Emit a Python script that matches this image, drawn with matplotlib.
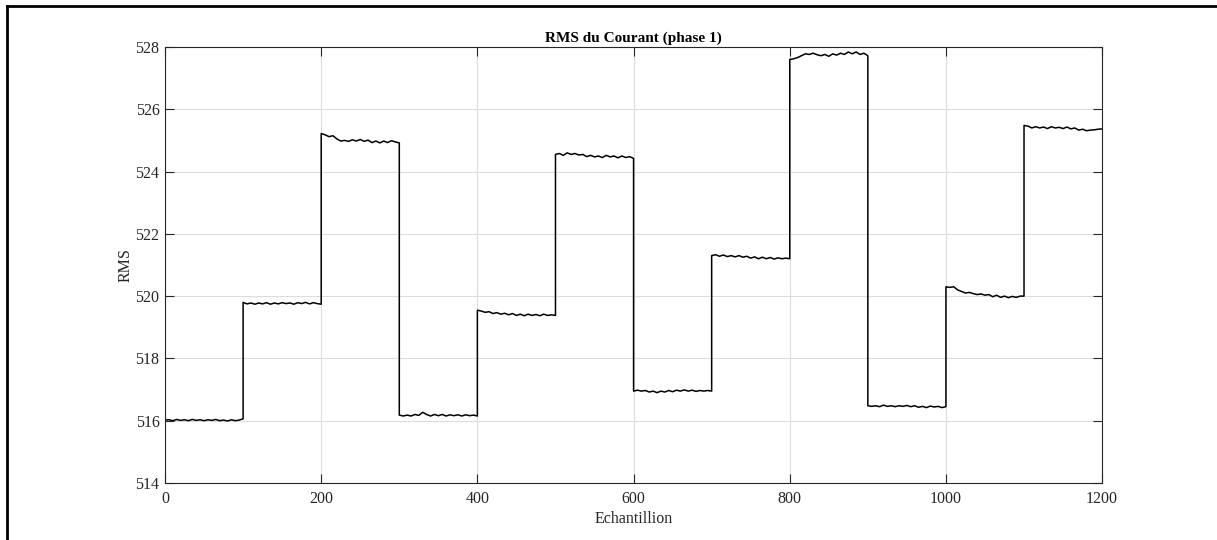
import numpy as np
import matplotlib
matplotlib.use('Agg')
import matplotlib.pyplot as plt
from matplotlib.lines import Line2D

plt.rcParams['font.family'] = ['Liberation Serif', 'DejaVu Serif']

# each segment: 100 samples, values read every 5 samples (21 points incl. end)
seg_starts = [0, 100, 200, 300, 400, 500, 600, 700, 800, 900, 1000, 1100]
seg_vals = [
    [516.02, 516.03, 516.0, 516.04, 516.01, 516.03, 516.0, 516.04, 516.01, 516.03, 516.0,
     516.03, 516.01, 516.04, 516.0, 516.02, 515.99, 516.03, 516.0, 516.02, 516.06],
    [519.8, 519.75, 519.78, 519.74, 519.78, 519.75, 519.79, 519.74, 519.78, 519.75, 519.79,
     519.76, 519.78, 519.74, 519.79, 519.76, 519.8, 519.75, 519.79, 519.76, 519.74],
    [525.22, 525.18, 525.12, 525.15, 525.05, 524.98, 525.0, 524.97, 525.02, 524.98, 525.03,
     524.97, 525.01, 524.93, 524.98, 524.92, 524.98, 524.93, 524.99, 524.95, 524.92],
    [516.18, 516.15, 516.18, 516.15, 516.2, 516.17, 516.27, 516.2, 516.15, 516.2, 516.16,
     516.2, 516.15, 516.19, 516.16, 516.19, 516.15, 516.19, 516.16, 516.18, 516.15],
    [519.55, 519.52, 519.48, 519.5, 519.44, 519.47, 519.42, 519.45, 519.4, 519.44, 519.38,
     519.42, 519.37, 519.42, 519.38, 519.41, 519.37, 519.42, 519.38, 519.4, 519.38],
    [524.55, 524.58, 524.52, 524.6, 524.55, 524.58, 524.53, 524.55, 524.48, 524.52, 524.47,
     524.5, 524.45, 524.52, 524.47, 524.5, 524.44, 524.5, 524.45, 524.48, 524.42],
    [516.95, 516.98, 516.95, 516.97, 516.92, 516.95, 516.9, 516.95, 516.92, 516.97, 516.93,
     516.98, 516.95, 516.99, 516.95, 516.98, 516.94, 516.97, 516.95, 516.97, 516.95],
    [521.3, 521.33, 521.28, 521.32, 521.27, 521.3, 521.26, 521.3, 521.25, 521.28, 521.22,
     521.26, 521.2, 521.25, 521.2, 521.24, 521.19, 521.23, 521.2, 521.22, 521.2],
    [527.6, 527.62, 527.66, 527.72, 527.78, 527.76, 527.8, 527.75, 527.72, 527.76, 527.7,
     527.78, 527.74, 527.8, 527.76, 527.84, 527.78, 527.84, 527.76, 527.8, 527.72],
    [516.48, 516.46, 516.48, 516.45, 516.5, 516.46, 516.48, 516.45, 516.48, 516.46, 516.49,
     516.45, 516.48, 516.43, 516.46, 516.42, 516.47, 516.44, 516.46, 516.42, 516.45],
    [520.3, 520.28, 520.3, 520.2, 520.15, 520.1, 520.12, 520.08, 520.05, 520.07, 520.03,
     520.05, 519.98, 520.03, 519.96, 520.0, 519.95, 519.99, 519.96, 520.0, 520.0],
    [525.48, 525.46, 525.4, 525.44, 525.4, 525.43, 525.38, 525.44, 525.4, 525.42, 525.38,
     525.43, 525.37, 525.4, 525.33, 525.36, 525.31, 525.33, 525.34, 525.36, 525.37],
]

x = []
y = []
for start, vals in zip(seg_starts, seg_vals):
    x.extend(start + np.arange(len(vals)) * 5)
    y.extend(vals)

fig = plt.figure(figsize=(12.17, 5.40), dpi=100)
ax = fig.add_axes([0.1356, 0.1056, 0.770, 0.8074])

ax.plot(x, y, color='black', linewidth=1.1)

ax.set_xlim(0, 1200)
ax.set_ylim(514, 528)
ax.set_xticks(np.arange(0, 1201, 200))
ax.set_yticks(np.arange(514, 529, 2))
ax.grid(True, color='#dcdcdc', linewidth=0.8)
ax.tick_params(direction='in', top=True, right=True, length=6.5, width=0.8,
               colors='#262626', labelsize=11.5, labelcolor='#262626')
ax.tick_params(axis='x', pad=6)
ax.tick_params(axis='y', pad=4)
for s in ax.spines.values():
    s.set_color('#262626')
    s.set_linewidth(0.8)

ax.set_title('RMS du Courant (phase 1)', fontsize=11, fontweight='bold', pad=4)
ax.set_xlabel('Echantillion', fontsize=11.5, labelpad=3, color='#262626')
ax.set_ylabel('RMS', fontsize=11.5, labelpad=1, color='#262626')

# partial page border (left and top)
fig.add_artist(Line2D([0.0057, 0.0057], [0, 0.989], color='black', linewidth=2,
                      transform=fig.transFigure))
fig.add_artist(Line2D([0.0057, 1.0], [0.989, 0.989], color='black', linewidth=2,
                      transform=fig.transFigure))

fig.savefig('out.png', dpi=100)
